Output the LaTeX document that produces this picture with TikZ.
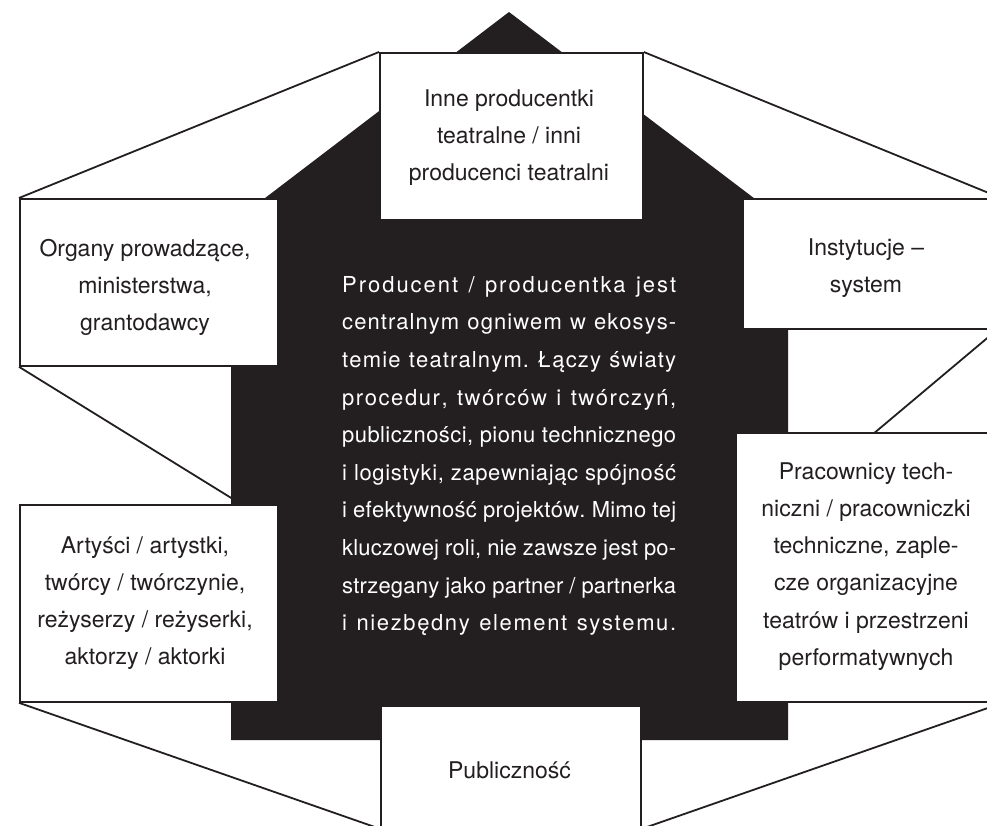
\documentclass[tikz,border=0pt]{standalone}
\usepackage{fontspec}
\setmainfont{TeX Gyre Heros}
\usetikzlibrary{calc}
\definecolor{ink}{HTML}{231F20}

\pgfdeclarelayer{background}
\pgfsetlayers{background,main}

% A justified line whose extra room is spread over letters and word gaps
\ExplSyntaxOn
\seq_new:N \l__sk_words_seq
\tl_new:N \l__sk_line_tl
\cs_new_protected:Npn \spreadline #1 #2
  {
    \seq_set_split:Nnn \l__sk_words_seq { ~ } { #2 }
    \tl_clear:N \l__sk_line_tl
    \seq_map_indexed_inline:Nn \l__sk_words_seq
      {
        \int_compare:nNnT { ##1 } > { 1 }
          { \tl_put_right:Nn \l__sk_line_tl { \hskip ~ 0.25em ~ plus ~ 2.5fil ~ minus ~ 0.06em \relax } }
        \tl_map_inline:nn { ##2 }
          { \tl_put_right:Nn \l__sk_line_tl { ####1 \hskip ~ 0pt ~ plus ~ 1fil \relax } }
        \tl_put_right:Nn \l__sk_line_tl { \unskip }
      }
    \hbox_to_wd:nn { #1 } { \tl_use:N \l__sk_line_tl }
  }
\ExplSyntaxOff

% Centred lines with a fixed baseline distance; the baseline is that of the first line
\newcommand\stacked[2]{\vtop{\baselineskip=#1\lineskiplimit=-100pt\lineskip=0pt\halign{\hfil##\hfil\cr#2\crcr}}}

\begin{document}
\begin{tikzpicture}[x=1pt,y=-1pt,
  outline/.style={draw=ink, line width=1.8pt},
  panel/.style={draw=ink, fill=white, line width=1.8pt, inner sep=0pt, anchor=north west},
  paneltext/.style={text=ink, inner sep=0pt, anchor=base, font=\fontsize{23}{28}\selectfont},
  bodytext/.style={text=white, inner sep=0pt, anchor=base west, font=\fontsize{22}{26}\selectfont}]
\useasboundingbox (0,0) rectangle (987,825);

% panels
\node[panel, minimum width=263pt, minimum height=167pt] (others) at (379,52) {};
\node[panel, minimum width=258pt, minimum height=167pt] (organy) at (19,198) {};
\node[panel, minimum width=248pt, minimum height=130pt] (instytucje) at (742,198) {};
\node[panel, minimum width=258pt, minimum height=197pt] (artysci) at (19,504) {};
\node[panel, minimum width=262pt, minimum height=269pt] (pracownicy) at (735,432) {};
\node[panel, minimum width=260pt, minimum height=122pt] (publicznosc) at (380,705) {};

% outer frame corners
\coordinate (vTR) at (1001,198);
\coordinate (vMR) at (998,329);
\coordinate (vBR) at (1005,702);
\coordinate (eL) at (262,517);
\coordinate (eR) at (860,445);

\begin{pgfonlayer}{background}
  \fill[white] (0,0) rectangle (987,825);
  \draw[outline] (others.north west) -- (organy.north west);
  \draw[outline] (others.north east) -- (vTR);
  \draw[outline] (organy.south west) -- (eL);
  \draw[outline] (vMR) -- (eR);
  \draw[outline] (artysci.south west) -- (publicznosc.south west);
  \draw[outline] (vBR) -- (publicznosc.south east);
  % central house shape
  \fill[ink] (231,224) -- (509,12) -- (788,224) -- (788,740) -- (231,740) -- cycle;
\end{pgfonlayer}

% panel texts
\node[paneltext] (others-t) at (509,106.5)
  {\stacked{36.8pt}{Inne producentki\cr teatralne / inni\cr producenci teatralni}};
\node[paneltext] (organy-t) at (145,256)
  {\stacked{37.2pt}{Organy prowadzące,\cr ministerstwa,\cr grantodawcy}};
\node[paneltext] (instytucje-t) at (866,255)
  {\stacked{37.5pt}{Instytucje –\cr system}};
\node[paneltext] (artysci-t) at (145,553.3)
  {\stacked{37.2pt}{Artyści / artystki,\cr twórcy / twórczynie,\cr reżyserzy / reżyserki,\cr aktorzy / aktorki}};
\node[paneltext] (pracownicy-t) at (866,479)
  {\stacked{37.3pt}{Pracownicy tech-\cr niczni / pracowniczki\cr techniczne, zaple-\cr cze organizacyjne\cr teatrów i przestrzeni\cr performatywnych}};
\node[paneltext] (publicznosc-t) at (509.5,778.3) {Publiczność};

% central description
\node[bodytext] (opis) at (342,292.3) {\vtop{\baselineskip=37.6pt\lineskiplimit=-100pt
  \hbox{\spreadline{334pt}{Producent / producentka jest}}
  \hbox{\spreadline{334pt}{centralnym ogniwem w ekosys-}}
  \hbox{\spreadline{334pt}{temie teatralnym. Łączy światy}}
  \hbox{\spreadline{334pt}{procedur, twórców i twórczyń,}}
  \hbox{\spreadline{334pt}{publiczności, pionu technicznego}}
  \hbox{\spreadline{334pt}{i logistyki, zapewniając spójność}}
  \hbox{\spreadline{334pt}{i efektywność projektów. Mimo tej}}
  \hbox{\spreadline{334pt}{kluczowej roli, nie zawsze jest po-}}
  \hbox{\spreadline{334pt}{strzegany jako partner / partnerka}}
  \hbox{\spreadline{334pt}{i niezbędny element systemu.}}}};
\end{tikzpicture}
\end{document}
